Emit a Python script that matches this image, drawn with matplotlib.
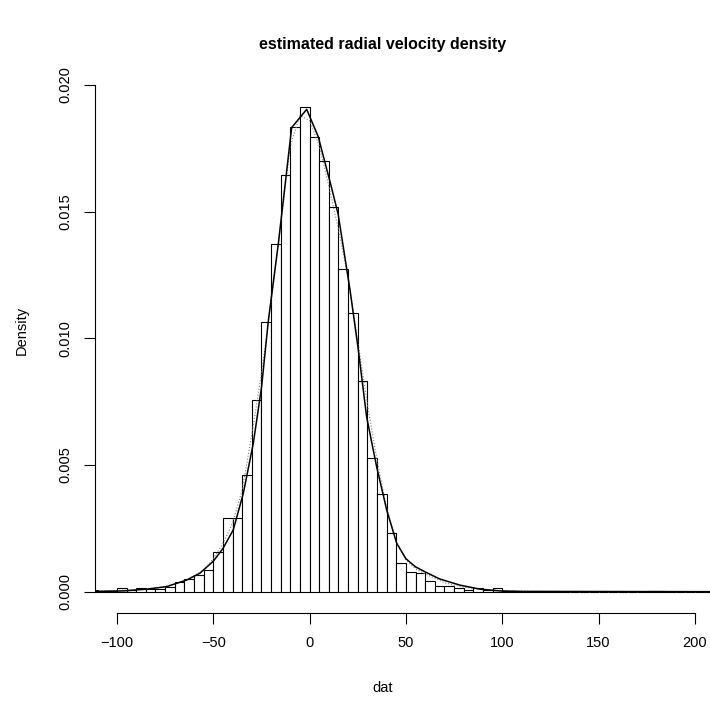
import matplotlib
matplotlib.use("Agg")
import matplotlib.pyplot as plt
import numpy as np

plt.rcParams['font.family'] = ['Liberation Sans', 'DejaVu Sans']

# histogram: left bin edges (width 5) and densities
bin_left = list(range(-115, 210, 5))
dens = [0.00005, 0.00004, 0.00003, 0.00015, 0.00005, 0.00014, 0.00009, 0.00011,
        0.00020, 0.00038, 0.00050, 0.00065, 0.00086, 0.00158, 0.00290, 0.00290,
        0.00460, 0.00757, 0.01066, 0.01371, 0.01645, 0.01836, 0.01915, 0.01796,
        0.01700, 0.01517, 0.01274, 0.01099, 0.00832, 0.00527, 0.00384, 0.00233,
        0.00112, 0.00076, 0.00073, 0.00043, 0.00024, 0.00022, 0.00015, 0.00008,
        0.00016, 0.00005, 0.00013, 0.00003, 0.00001, 0.0, 0.00001, 0.00001,
        0.00001, 0.0, 0.0, 0.0, 0.0, 0.0, 0.0, 0.0,
        0.0, 0.0, 0.00001, 0.00001, 0.0, 0.0, 0.0, 0.0, 0.0]

# estimated density curve (solid)
kde_x = [-111.4, -105, -96.7, -84.5, -74.2, -63.8, -56.9, -50, -45, -39.6, -34.4,
         -29.2, -24.9, -21.4, -16.2, -9.3, -1.5, 4.5, 11.5, 14.9, 21, 25.3, 29.6,
         34.8, 40, 45.2, 50, 55, 60, 67.6, 78, 88.4, 98.8, 110, 208]
kde_y = [0.00001, 0.00002, 0.00003, 0.0001, 0.0002, 0.00046, 0.00073, 0.0012,
         0.0017, 0.00244, 0.00388, 0.00586, 0.00809, 0.0107, 0.01375, 0.01832,
         0.01904, 0.01796, 0.01592, 0.01487, 0.0119, 0.00954, 0.0069, 0.00493,
         0.00323, 0.00191, 0.0013, 0.00098, 0.00078, 0.0005, 0.00026, 0.0001,
         0.00003, 0.00001, 0.0]

# second estimate (grey dotted)
dot_x = [-111, -95, -85, -75, -65, -55, -50, -45, -40, -35, -30, -25, -20, -15,
         -10, -5, 0, 5, 10, 15, 20, 25, 30, 35, 40, 45, 50, 55, 60, 70, 80, 90,
         100, 120, 208]
dot_y = [0.00002, 0.00006, 0.0001, 0.0002, 0.00042, 0.00085, 0.0013, 0.0019,
         0.0027, 0.0040, 0.0062, 0.0086, 0.0114, 0.0145, 0.0176, 0.0188, 0.0186,
         0.0176, 0.0160, 0.0143, 0.0124, 0.0099, 0.0074, 0.0052, 0.0033, 0.0020,
         0.00125, 0.0009, 0.0007, 0.00035, 0.00018, 0.00009, 0.00004, 0.00001,
         0.00001]

xticks = [-100, -50, 0, 50, 100, 150, 200]
yticks = [0.000, 0.005, 0.010, 0.015, 0.020]

fig = plt.figure(figsize=(7.1, 7.07), dpi=100)
ax = fig.add_axes([95/710, (707-613.3)/707, 1 - 95/710, (613.3-75)/707])

ax.bar(bin_left, dens, width=5, align='edge', facecolor='white',
       edgecolor='black', linewidth=0.8)
ax.plot(dot_x, dot_y, color='grey', linestyle=':', linewidth=0.8)
ax.plot(kde_x, kde_y, color='black', linewidth=1.1)

ax.set_xlim(-111.36, 207.8)
ax.set_ylim(-0.000853, 0.020396)

for s in ['top', 'right']:
    ax.spines[s].set_visible(False)
ax.spines['left'].set_bounds(0, 0.02)
ax.spines['bottom'].set_bounds(-100, 200)
ax.spines['left'].set_linewidth(0.8)
ax.spines['bottom'].set_linewidth(0.8)

ax.set_xticks(xticks)
ax.set_yticks(yticks)
ax.set_yticklabels(['0.000', '0.005', '0.010', '0.015', '0.020'],
                   rotation=90, va='center')
ax.tick_params(direction='out', length=8, width=0.8, labelsize=10.5, pad=8)

fig.text(383/710, 1 - 45/707, 'estimated radial velocity density',
         ha='center', va='center', fontsize=11.5, fontweight='bold')
fig.text(383/710, 1 - 688/707, 'dat', ha='center', va='center', fontsize=10.5)
fig.text(22/710, 1 - 330/707, 'Density', ha='center', va='center',
         fontsize=10.5, rotation=90)

fig.savefig('out.png', dpi=100)
